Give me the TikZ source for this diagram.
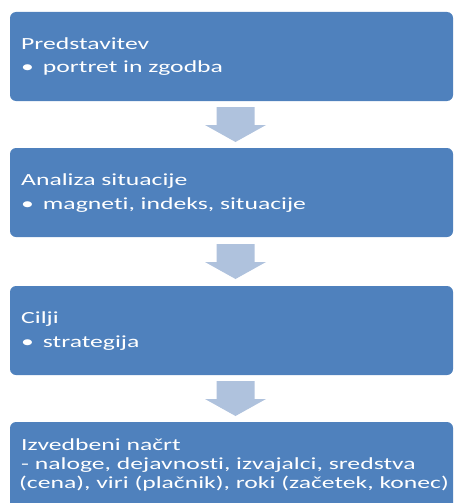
\documentclass[tikz,border=0pt]{standalone}
\usepackage{fontspec}
\setmainfont{Carlito}[FakeStretch=1.51, Ligatures={NoCommon,NoRare}, Contextuals={NoAlternate}]
\usetikzlibrary{calc}
\definecolor{boxblue}{HTML}{4F81BD}
\definecolor{arrowblue}{HTML}{AFC2DD}
\tikzset{
  stepbox/.style={draw=none, fill=boxblue, rounded corners=6pt, minimum width=443pt, minimum height=89pt, inner sep=0pt, outer sep=0pt, anchor=north west},
  boxtext/.style={anchor=base west, inner sep=0pt, text=white, font=\fontsize{17}{20}\selectfont},
  downarrow/.pic={\fill[arrowblue] (-19,-17.5) -- (19,-17.5) -- (19,0.5) -- (30.5,0.5) -- (0,17.5) -- (-30.5,0.5) -- (-19,0.5) -- cycle;}
}
\begin{document}
\begin{tikzpicture}[x=1pt,y=-1pt]
\useasboundingbox (0,0) rectangle (454,503);
\clip (0,0) rectangle (454,503);
\node[stepbox] (b1) at (10,12) {};
\node[stepbox] (b2) at (10,148) {};
\node[stepbox] (b3) at (10,286) {};
\node[stepbox, minimum height=100pt] (b4) at (10,422) {};
\pic at ($($(b1.south)!0.5!(b2.north)$)+(4,0)$) {downarrow};
\pic at ($($(b2.south)!0.5!(b3.north)$)+(4,0)$) {downarrow};
\pic at ($($(b3.south)!0.5!(b4.north)$)+(4,0)$) {downarrow};
\node[boxtext] (t1a) at ($(b1.north west)+(11,37)$) {Predstavitev};
\node[boxtext] (t1b) at ($(b1.north west)+(11,61)$) {•\hspace{9pt}portret in zgodba};
\node[boxtext] (t2a) at ($(b2.north west)+(11,37)$) {Analiza situacije};
\node[boxtext] (t2b) at ($(b2.north west)+(11,61)$) {•\hspace{9pt}magneti, indeks, situacije};
\node[boxtext] (t3a) at ($(b3.north west)+(11,37)$) {Cilji};
\node[boxtext] (t3b) at ($(b3.north west)+(11,61)$) {•\hspace{9pt}strategija};
\node[boxtext] (t4a) at ($(b4.north west)+(11,28)$) {Izvedbeni načrt};
\node[boxtext] (t4b) at ($(b4.north west)+(11,47)$) {- naloge, dejavnosti, izvajalci, sredstva};
\node[boxtext] (t4c) at ($(b4.north west)+(9,66)$) {(cena), viri (plačnik), roki (začetek, konec)};
\end{tikzpicture}
\end{document}
